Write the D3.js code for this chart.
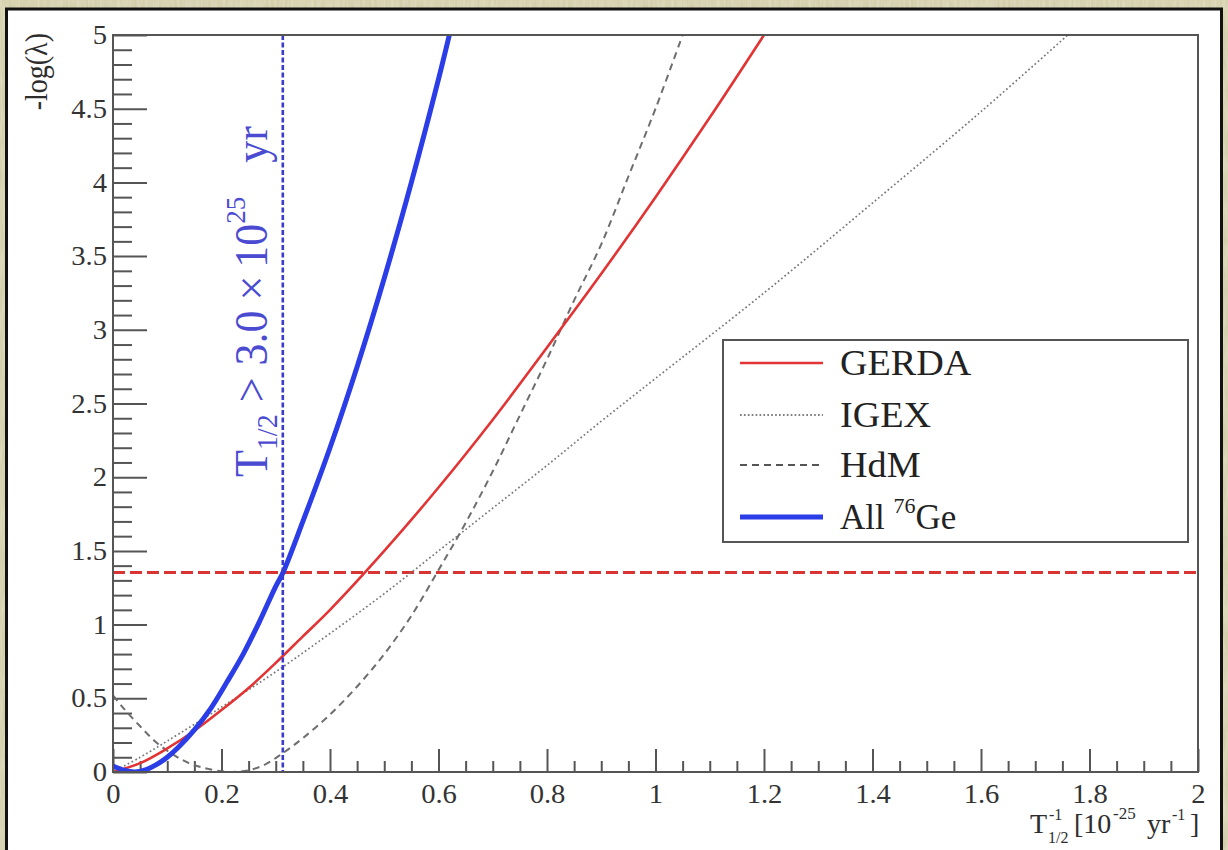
<!DOCTYPE html>
<html>
<head>
<meta charset="utf-8">
<script src="https://cdn.jsdelivr.net/npm/d3@7"></script>
<style>
  html, body { margin: 0; padding: 0; background: #d4cfac; }
  svg { display: block; }
  svg text { font-family: "Liberation Serif", "Times New Roman", serif; }
</style>
</head>
<body>
<svg id="chart" width="1228" height="850"></svg>
<script>
// ---- data -------------------------------------------------------------
// profile likelihood curves: [1/T_half (1e-25 / yr), -log(lambda)]
const gerda = [
  [0, 0], [0.05, 0.06], [0.10, 0.16], [0.15, 0.28], [0.20, 0.42], [0.25, 0.57],
  [0.30, 0.74], [0.35, 0.92], [0.40, 1.10], [0.50, 1.50], [0.60, 1.93],
  [0.70, 2.39], [0.80, 2.88], [0.90, 3.38], [1.00, 3.90], [1.10, 4.44], [1.20, 5.0]
];
const igex = [
  [0, 0], [0.05, 0.10], [0.10, 0.21], [0.20, 0.44], [0.30, 0.68], [0.40, 0.94],
  [0.50, 1.21], [0.60, 1.50], [0.70, 1.79], [0.80, 2.08], [0.90, 2.38],
  [1.00, 2.67], [1.20, 3.25], [1.40, 3.86], [1.60, 4.48], [1.76, 5.0]
];
const hdm = [
  [0, 0.52], [0.02, 0.43], [0.05, 0.31], [0.08, 0.20], [0.11, 0.12], [0.14, 0.06],
  [0.17, 0.025], [0.20, 0.005], [0.22, 0.0], [0.25, 0.012], [0.28, 0.05],
  [0.31, 0.12], [0.35, 0.23], [0.40, 0.39], [0.45, 0.58], [0.50, 0.80],
  [0.55, 1.06], [0.60, 1.37], [0.65, 1.69], [0.70, 2.04], [0.75, 2.42],
  [0.80, 2.80], [0.85, 3.20], [0.90, 3.58], [0.95, 4.04], [1.00, 4.50], [1.05, 5.0]
];
const allGe = [
  [0, 0.04], [0.02, 0.012], [0.04, 0.0], [0.06, 0.015], [0.08, 0.05], [0.10, 0.10],
  [0.12, 0.166], [0.15, 0.286], [0.18, 0.43], [0.21, 0.61], [0.24, 0.80],
  [0.27, 1.02], [0.30, 1.26], [0.313, 1.35], [0.35, 1.70], [0.40, 2.20],
  [0.45, 2.75], [0.50, 3.35], [0.55, 4.00], [0.60, 4.70], [0.62, 5.0]
];
const cl90Level = 1.353;     // 90% C.L. threshold on -log(lambda)
const limitX = 0.313;        // combined limit in 1/T_half

const xTickValues = [0, 0.2, 0.4, 0.6, 0.8, 1.0, 1.2, 1.4, 1.6, 1.8, 2.0];
const xTickLabels = ["0", "0.2", "0.4", "0.6", "0.8", "1", "1.2", "1.4", "1.6", "1.8", "2"];
const yTickValues = [0, 0.5, 1, 1.5, 2, 2.5, 3, 3.5, 4, 4.5, 5];
const yTickLabels = ["0", "0.5", "1", "1.5", "2", "2.5", "3", "3.5", "4", "4.5", "5"];

const legendNames = ["GERDA", "IGEX", "HdM", "All"];

// ---- setup ------------------------------------------------------------
const SERIF = '"Liberation Serif", "Times New Roman", serif';
const svg = d3.select("#chart");
const W = 1228, H = 850;
const plot = { left: 113, right: 1198, top: 35, bottom: 772 };

const x = d3.scaleLinear().domain([0, 2]).range([plot.left, plot.right]);
const y = d3.scaleLinear().domain([0, 5]).range([plot.bottom, plot.top]);

// widen glyphs slightly (Times-like face drawn a little wide)
function widen(sel, f) {
  sel.each(function () {
    const len = this.getComputedTextLength();
    d3.select(this).attr("textLength", len * f).attr("lengthAdjust", "spacingAndGlyphs");
  });
}

// ---- background with paper texture ----------------------------------
const defs = svg.append("defs");
const paper = defs.append("filter").attr("id", "paper")
  .attr("x", 0).attr("y", 0).attr("width", "100%").attr("height", "100%");
paper.append("feTurbulence").attr("type", "fractalNoise")
  .attr("baseFrequency", "0.35 0.04").attr("numOctaves", 3).attr("seed", 7).attr("result", "n");
paper.append("feColorMatrix").attr("in", "n").attr("type", "matrix")
  .attr("values", "0 0 0 0 0.93  0 0 0 0 0.92  0 0 0 0 0.80  0 0 0 0.55 -0.12");

svg.append("rect").attr("width", W).attr("height", H).attr("fill", "#d2cda9");
svg.append("rect").attr("width", W).attr("height", H).attr("filter", "url(#paper)");

// white slide panel
svg.append("rect")
  .attr("x", 6.5).attr("y", 9).attr("width", 1215).attr("height", 860)
  .attr("fill", "#ffffff").attr("stroke", "#111").attr("stroke-width", 3);

defs.append("clipPath").attr("id", "plotClip").append("rect")
  .attr("x", plot.left).attr("y", plot.top)
  .attr("width", plot.right - plot.left).attr("height", plot.bottom - plot.top);

const axisColor = "#555";

// ---- axes -------------------------------------------------------------
const xMinor = d3.range(0, 2.0001, 0.05).filter(v => Math.abs(v * 5 - Math.round(v * 5)) > 1e-6);
const yMinor = d3.range(0, 5.0001, 0.1).filter(v => Math.abs(v * 2 - Math.round(v * 2)) > 1e-6);

const gx = svg.append("g").attr("transform", `translate(0,${plot.bottom})`)
  .call(d3.axisBottom(x).tickValues(xTickValues)
    .tickFormat((d, i) => xTickLabels[i])
    .tickSizeInner(-23).tickSizeOuter(0).tickPadding(12));
svg.append("g").attr("transform", `translate(0,${plot.bottom})`)
  .call(d3.axisBottom(x).tickValues(xMinor).tickFormat("")
    .tickSizeInner(-11).tickSizeOuter(0));

const gy = svg.append("g").attr("transform", `translate(${plot.left},0)`)
  .call(d3.axisLeft(y).tickValues(yTickValues)
    .tickFormat((d, i) => yTickLabels[i])
    .tickSizeInner(-34).tickSizeOuter(0).tickPadding(6));
svg.append("g").attr("transform", `translate(${plot.left},0)`)
  .call(d3.axisLeft(y).tickValues(yMinor).tickFormat("")
    .tickSizeInner(-19).tickSizeOuter(0));

svg.selectAll(".domain").remove();
svg.selectAll("g").attr("font-family", null);
svg.selectAll(".tick line").attr("stroke", axisColor).attr("stroke-width", 2);
svg.selectAll(".tick text")
  .style("font-family", SERIF)
  .attr("font-size", 27).attr("fill", "#333");
widen(gx.selectAll(".tick text"), 1.06);
widen(gy.selectAll(".tick text"), 1.06);

// ---- curves -----------------------------------------------------------
const line = d3.line()
  .x(d => x(d[0])).y(d => y(d[1]))
  .curve(d3.curveCatmullRom.alpha(0.5));

const curves = svg.append("g").attr("clip-path", "url(#plotClip)");

// 90% C.L. level
curves.append("line")
  .attr("x1", x(0)).attr("x2", x(2))
  .attr("y1", y(cl90Level)).attr("y2", y(cl90Level))
  .attr("stroke", "#d83434").attr("stroke-width", 3)
  .attr("stroke-dasharray", "12,5");

curves.append("path").datum(igex).attr("d", line)
  .attr("fill", "none").attr("stroke", "#777").attr("stroke-width", 1.7)
  .attr("stroke-dasharray", "1.7,2.5");

curves.append("path").datum(hdm).attr("d", line)
  .attr("fill", "none").attr("stroke", "#6e6e6e").attr("stroke-width", 2)
  .attr("stroke-dasharray", "7,5");

curves.append("path").datum(gerda).attr("d", line)
  .attr("fill", "none").attr("stroke", "#e23434").attr("stroke-width", 2.6);

curves.append("path").datum(allGe).attr("d", line)
  .attr("fill", "none").attr("stroke", "#2b3de6").attr("stroke-width", 5)
  .attr("stroke-linejoin", "round");

// vertical limit marker
curves.append("line")
  .attr("x1", x(limitX)).attr("x2", x(limitX))
  .attr("y1", y(5)).attr("y2", y(0))
  .attr("stroke", "#3b3bcc").attr("stroke-width", 2.6)
  .attr("stroke-dasharray", "5,2.5");

// plot frame
svg.append("rect")
  .attr("x", plot.left).attr("y", plot.top)
  .attr("width", plot.right - plot.left).attr("height", plot.bottom - plot.top)
  .attr("fill", "none").attr("stroke", axisColor).attr("stroke-width", 2);

// ---- limit annotation (rotated) -------------------------------------
const ann = svg.append("text")
  .attr("transform", `translate(${x(limitX) - 16},477) rotate(-90) scale(1,1.05)`)
  .attr("fill", "#4b4bd2").attr("font-size", 44);
ann.append("tspan").text("T");
ann.append("tspan").attr("font-size", 28).attr("dy", 10).text("1/2");
ann.append("tspan").attr("dy", -10).attr("dx", 12).text(">");
ann.append("tspan").attr("dx", 12).text("3.0");
ann.append("tspan").attr("dx", 10).text("×");
ann.append("tspan").attr("dx", 8).text("10");
ann.append("tspan").attr("font-size", 27).attr("dy", -21).text("25");
ann.append("tspan").attr("dy", 21).attr("dx", 34).text("yr");

// ---- axis titles ----------------------------------------------------
svg.append("text")
  .attr("transform", "translate(47,33) rotate(-90) scale(1,1.1)")
  .attr("text-anchor", "end").attr("font-size", 28).attr("fill", "#2d2d2d")
  .text("-log(λ)");

const xt = svg.append("g").attr("fill", "#2d2d2d");
xt.append("text").attr("x", 1030).attr("y", 833).attr("font-size", 28).text("T");
xt.append("text").attr("x", 1049).attr("y", 820).attr("font-size", 16).text("-1");
xt.append("text").attr("x", 1048).attr("y", 843).attr("font-size", 16).text("1/2");
xt.append("text").attr("x", 1074).attr("y", 833).attr("font-size", 28).text("[10");
xt.append("text").attr("x", 1113).attr("y", 819).attr("font-size", 17).text("-25");
xt.append("text").attr("x", 1147).attr("y", 833).attr("font-size", 28).text("yr");
xt.append("text").attr("x", 1172).attr("y", 820).attr("font-size", 16).text("-1");
xt.append("text").attr("x", 1190).attr("y", 833).attr("font-size", 28).text("]");

// ---- legend -----------------------------------------------------------
const legend = svg.append("g");
legend.append("rect")
  .attr("x", 723).attr("y", 340).attr("width", 465).attr("height", 202)
  .attr("fill", "#fff").attr("stroke", axisColor).attr("stroke-width", 2);

const legendStyles = [
  { stroke: "#e23434", width: 2.6, dash: null },
  { stroke: "#555", width: 1.7, dash: "1.7,2.2" },
  { stroke: "#555", width: 2, dash: "7,5" },
  { stroke: "#2b3de6", width: 5, dash: null }
];
const rowY = [363, 415, 465, 517];

legendNames.forEach((name, i) => {
  const st = legendStyles[i];
  legend.append("line")
    .attr("x1", 740).attr("x2", 823).attr("y1", rowY[i]).attr("y2", rowY[i])
    .attr("stroke", st.stroke).attr("stroke-width", st.width)
    .attr("stroke-dasharray", st.dash);
  const t = legend.append("text")
    .attr("x", 840).attr("y", rowY[i] + 12)
    .attr("font-size", 35).attr("fill", "#222");
  if (name === "All") {
    t.append("tspan").text("All ");
    t.append("tspan").attr("font-size", 22).attr("dy", -16).text("76");
    t.append("tspan").attr("dy", 16).text("Ge");
  } else {
    t.text(name);
    widen(t, 1.09);
  }
});
</script>
</body>
</html>
